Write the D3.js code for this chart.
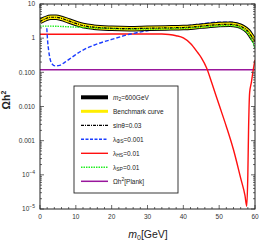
<!DOCTYPE html>
<html>
<head>
<meta charset="utf-8">
<script src="https://cdn.jsdelivr.net/npm/d3@7"></script>
<style>
  body { margin: 0; background: #fff; }
  svg { display: block; font-family: "Liberation Sans", Arial, sans-serif; }
</style>
</head>
<body>
<svg id="chart" width="260" height="241"></svg>
<script>
// --- data ---
const bandM = [0, 1.5, 3, 4.5, 6, 8, 10, 12, 15, 20, 25, 30, 35, 40, 42, 45, 50, 53, 55, 56.5, 58, 59, 60];
const m2Vals = [3.1, 3.7, 4.1, 4.1, 3.8, 3.2, 2.7, 2.35, 2.1, 1.95, 1.9, 1.95, 2.0, 2.05, 2.1, 2.25, 2.5, 2.55, 2.4, 2.1, 1.6, 1.15, 0.8];
const benchVals = [3.1, 3.7, 4.1, 4.1, 3.8, 3.2, 2.7, 2.35, 2.1, 1.95, 1.9, 1.95, 2.0, 2.05, 2.1, 2.25, 2.5, 2.55, 2.4, 2.1, 1.6, 1.15, 0.8];
const sinVals = [3.1, 3.7, 4.1, 4.1, 3.8, 3.2, 2.7, 2.35, 2.1, 1.95, 1.9, 1.95, 2.0, 2.05, 2.1, 2.25, 2.5, 2.55, 2.4, 2.1, 1.6, 1.15, 0.8];

const phiM = [1.9, 2.1, 2.4, 2.8, 3.3, 4.2, 5.5, 7, 9, 11.5, 15, 20, 25, 30, 35, 38, 40, 45, 50, 53, 55, 57, 58.5, 59.5, 60];
const phiVals = [1.95, 0.9, 0.45, 0.25, 0.18, 0.155, 0.16, 0.2, 0.28, 0.42, 0.62, 0.92, 1.3, 1.65, 1.95, 2.1, 2.25, 2.6, 2.95, 2.95, 2.75, 2.2, 1.6, 1.2, 1.0];

const hsM = [0, 10, 20, 30, 34, 36, 38, 40, 42, 44, 45, 46.5, 48, 50, 52, 54, 56, 57.2, 57.7, 58.0, 58.2, 58.5, 59, 59.5, 60];
const hsVals = [1.3, 1.3, 1.32, 1.33, 1.32, 1.28, 1.18, 1.02, 0.7, 0.38, 0.27, 0.134, 0.047, 0.011, 0.0026, 0.00054, 0.00008, 0.000025, 0.000012, 0.0001, 0.002, 0.025, 0.052, 0.117, 0.23];

const spM = [0, 3, 6, 10, 15, 20, 30, 40, 45, 50, 53, 55, 57, 58.5, 59.5, 60];
const spVals = [2.25, 2.25, 2.2, 2.1, 2.0, 1.9, 1.85, 1.95, 2.1, 2.3, 2.35, 2.2, 1.75, 1.2, 0.7, 0.5];

const planck = 0.12;

const xTicks = [0, 10, 20, 30, 40, 50, 60];
const yTicks = [10, 1, 0.1, 0.01, 0.001, 1e-4, 1e-5];
const yTickText = ["10", "1", "0.100", "0.010", "0.001", "10|−4", "10|−5"];

// --- layout ---
const svg = d3.select("#chart");
const pLeft = 40, pRight = 255, pTop = 4, pBottom = 209;

const x = d3.scaleLinear().domain([0, 60]).range([pLeft, pRight]);
const y = d3.scaleLog().domain([1e-5, 10]).range([pBottom, pTop]);

const plot = svg.append("g");
plot.append("defs").append("clipPath").attr("id", "clip")
  .append("rect").attr("x", pLeft).attr("y", pTop)
  .attr("width", pRight - pLeft).attr("height", pBottom - pTop);

const curves = plot.append("g").attr("clip-path", "url(#clip)");

const line = (xs) => d3.line()
  .x((d, i) => x(xs[i]))
  .y(d => y(d))
  .curve(d3.curveMonotoneX);

// purple Planck line
curves.append("line")
  .attr("x1", pLeft).attr("x2", pRight)
  .attr("y1", y(planck)).attr("y2", y(planck))
  .attr("stroke", "#99169c").attr("stroke-width", 1.5);

// red
curves.append("path").attr("d", line(hsM)(hsVals))
  .attr("fill", "none").attr("stroke", "#ff1010").attr("stroke-width", 1.4);

// blue dashed
curves.append("path").attr("d", line(phiM)(phiVals))
  .attr("fill", "none").attr("stroke", "#1a3cff").attr("stroke-width", 1.4)
  .attr("stroke-dasharray", "4,2");

// black thick
curves.append("path").attr("d", line(bandM)(m2Vals))
  .attr("fill", "none").attr("stroke", "#000").attr("stroke-width", 5.5);
// yellow benchmark
curves.append("path").attr("d", line(bandM)(benchVals))
  .attr("fill", "none").attr("stroke", "#ffee00").attr("stroke-width", 3.5);

// green dotted
curves.append("path").attr("d", line(spM)(spVals))
  .attr("fill", "none").attr("stroke", "#22ee22").attr("stroke-width", 1.4)
  .attr("stroke-dasharray", "1.5,1");

// black dash-dot
curves.append("path").attr("d", line(bandM)(sinVals))
  .attr("fill", "none").attr("stroke", "#000").attr("stroke-width", 1.2)
  .attr("stroke-dasharray", "3,1,1,1");

// --- ticks ---
const tickG = plot.append("g").attr("stroke", "#444").attr("stroke-width", 0.8);
const xMinor = d3.range(0, 61, 2);
xMinor.forEach(v => {
  const major = v % 10 === 0;
  const len = major ? 4 : 2;
  tickG.append("line").attr("x1", x(v)).attr("x2", x(v)).attr("y1", pBottom).attr("y2", pBottom - len);
  tickG.append("line").attr("x1", x(v)).attr("x2", x(v)).attr("y1", pTop).attr("y2", pTop + len);
});
const yMinor = [];
for (let e = -5; e < 1; e++) for (let k = 1; k < 10; k++) yMinor.push(k * Math.pow(10, e));
yMinor.push(10);
yMinor.forEach(v => {
  const major = Math.abs(Math.log10(v) - Math.round(Math.log10(v))) < 1e-9;
  const len = major ? 4 : 2;
  tickG.append("line").attr("x1", pLeft).attr("x2", pLeft + len).attr("y1", y(v)).attr("y2", y(v));
  tickG.append("line").attr("x1", pRight).attr("x2", pRight - len).attr("y1", y(v)).attr("y2", y(v));
});

// frame
plot.append("rect").attr("x", pLeft).attr("y", pTop)
  .attr("width", pRight - pLeft).attr("height", pBottom - pTop)
  .attr("fill", "none").attr("stroke", "#222").attr("stroke-width", 1);

// tick labels
const labG = svg.append("g").attr("font-size", 6.5).attr("fill", "#333");
xTicks.forEach(v => {
  labG.append("text").attr("x", x(v)).attr("y", 219)
    .attr("text-anchor", "middle").text(v);
});
yTicks.forEach((v, i) => {
  const t = labG.append("text").attr("x", 35).attr("y", y(v) + 2.3)
    .attr("text-anchor", "end");
  const parts = yTickText[i].split("|");
  t.append("tspan").text(parts[0]);
  if (parts[1]) {
    t.append("tspan").attr("dy", -3).attr("font-size", 5).text(parts[1]);
  }
});

// axis titles
svg.append("text")
  .attr("transform", "translate(10,100) rotate(-90)")
  .attr("text-anchor", "middle").attr("font-size", 10.5).attr("font-weight", "bold")
  .attr("fill", "#222")
  .html('Ωh<tspan dy="-4" font-size="7">2</tspan>');

svg.append("text")
  .attr("x", 148).attr("y", 238)
  .attr("text-anchor", "middle").attr("font-size", 10.5).attr("fill", "#222")
  .html('<tspan font-style="italic">m</tspan><tspan dy="2" font-size="7">0</tspan><tspan dy="-2">[GeV]</tspan>');

// --- legend ---
const legend = svg.append("g");
legend.append("rect").attr("x", 74).attr("y", 86).attr("width", 104).attr("height", 107)
  .attr("fill", "#fff").attr("stroke", "#222").attr("stroke-width", 0.9);

const legendItems = [
  { stroke: "#000", w: 4, dash: null, html: '<tspan font-style="italic">m</tspan><tspan dy="1.5" font-size="5">2</tspan><tspan dy="-1.5">=600GeV</tspan>' },
  { stroke: "#ffee00", w: 3, dash: null, html: "Benchmark curve" },
  { stroke: "#000", w: 1.3, dash: "3,1,1,1", html: "sinθ=0.03" },
  { stroke: "#1a3cff", w: 1.4, dash: "3,1.5", html: 'λ<tspan dy="1.5" font-size="5">ΦS</tspan><tspan dy="-1.5">=0.001</tspan>' },
  { stroke: "#ff1010", w: 1.4, dash: null, html: 'λ<tspan dy="1.5" font-size="5">HS</tspan><tspan dy="-1.5">=0.01</tspan>' },
  { stroke: "#22ee22", w: 1.4, dash: "1.5,1", html: 'λ<tspan dy="1.5" font-size="5">SP</tspan><tspan dy="-1.5">=0.01</tspan>' },
  { stroke: "#99169c", w: 1.5, dash: null, html: 'Ωh<tspan dy="-2.5" font-size="5">2</tspan><tspan dy="2.5">[Plank]</tspan>' }
];
legendItems.forEach((d, i) => {
  const ly = 97.3 + i * 14;
  const l = legend.append("line").attr("x1", 81).attr("x2", 108).attr("y1", ly).attr("y2", ly)
    .attr("stroke", d.stroke).attr("stroke-width", d.w);
  if (d.dash) l.attr("stroke-dasharray", d.dash);
  legend.append("text").attr("x", 113).attr("y", ly + 2.3)
    .attr("font-size", 6.5).attr("fill", "#222").html(d.html);
});
</script>
</body>
</html>
